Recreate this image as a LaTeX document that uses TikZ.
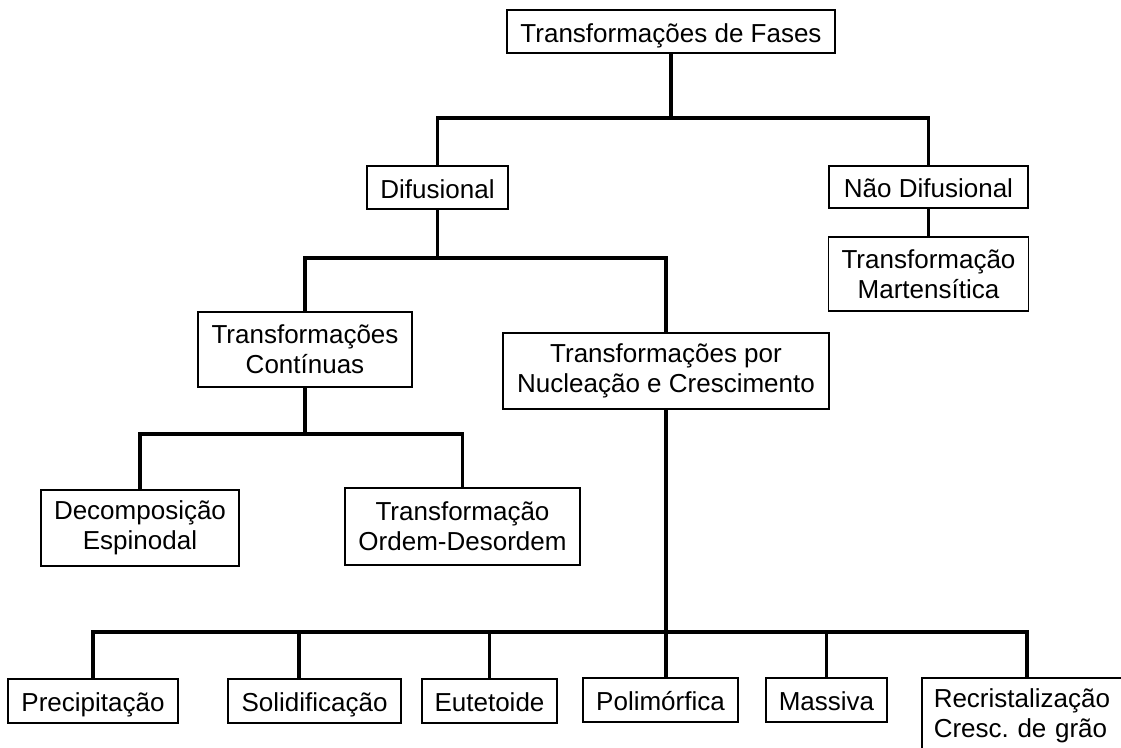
\documentclass[tikz,border=0pt]{standalone}
\usepackage{fontspec}
\setmainfont{Liberation Sans}
\frenchspacing
\begin{document}
\begin{tikzpicture}[x=1pt,y=-1pt,
  box/.style={draw, line width=1.5pt, inner sep=0pt, align=center,
    font=\fontsize{26}{30}\selectfont},
  one/.style={text height=22pt, text depth=0.6pt},
  conn/.style={line width=3.3pt}]
\useasboundingbox (0,0) rectangle (1121,747);
\clip (0,0) rectangle (1121,747);
% nodes
\node[box, one, minimum width=328pt, minimum height=43pt] (fases) at (671,31.5) {Transformações de Fases};
\node[box, one, minimum width=141pt, minimum height=43pt] (dif) at (437.5,187.5) {Difusional};
\node[box, one, minimum width=199pt, minimum height=42pt] (nd) at (928.5,187) {Não Difusional};
\node[box, minimum width=200pt, minimum height=74pt] (mart) at (928.5,274) {Transformação\\Martensítica};
\node[box, minimum width=214pt, minimum height=75pt] (cont) at (305,349.5) {Transformações\\Contínuas};
\node[box, minimum width=326pt, minimum height=76pt] (nuc) at (666,371) {Transformações por\\Nucleação e Crescimento};
\node[box, minimum width=198pt, minimum height=76pt] (decomp) at (140,528) {Decomposição\\Espinodal};
\node[box, minimum width=235pt, minimum height=77pt] (ordem) at (462.5,526.5) {Transformação\\Ordem-Desordem};
\node[box, one, minimum width=170pt, minimum height=44pt] (prec) at (93,701) {Precipitação};
\node[box, one, minimum width=173pt, minimum height=44pt] (solid) at (314.5,701) {Solidificação};
\node[box, one, minimum width=135pt, minimum height=44pt] (eut) at (489.5,701) {Eutetoide};
\node[box, one, minimum width=155pt, minimum height=44pt] (poli) at (660.5,700) {Polimórfica};
\node[box, one, minimum width=121pt, minimum height=44pt] (mass) at (826.5,700) {Massiva};
\node[box, anchor=north west, inner xsep=12pt, text width=196pt, align=left, minimum height=76pt] (recr) at (921,677) {Recristalização\\Cresc. de grão};
% bus coordinates
\coordinate (bus1) at (0,118);
\coordinate (bus2) at (0,258);
\coordinate (bus3) at (0,434);
\coordinate (busS) at (299,632);
\coordinate (busR) at (1027,632);
% connectors
\draw[conn] (fases.south) -- (fases.south |- bus1);
\draw[conn] (dif.north) -- (dif.north |- bus1) -| (nd.north);
\draw[conn] (nd.south) -- (nd.south |- mart.north);
\draw[conn] (dif.south) -- (dif.south |- bus2);
\draw[conn] (cont.north) -- (cont.north |- bus2) -| (nuc.north);
\draw[conn] (cont.south) -- (cont.south |- bus3);
\draw[conn] (decomp.north) -- (decomp.north |- bus3) -| (ordem.north);
\draw[conn] (nuc.south) -- (nuc.south |- poli.north);
\draw[conn] (prec.north) -- (prec.north |- busR) -- (busR) -- (busR |- recr.north);
\draw[conn] (busS) -- (busS |- solid.north);
\draw[conn] (eut.north) -- (eut.north |- busR);
\draw[conn] (mass.north) -- (mass.north |- busR);
\end{tikzpicture}
\end{document}
